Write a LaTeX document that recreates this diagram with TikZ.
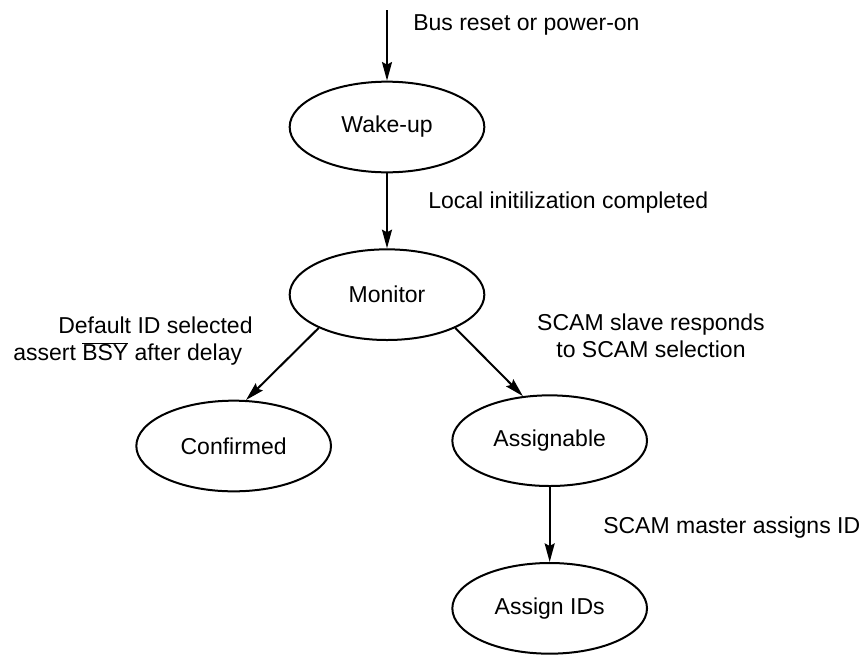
\documentclass[tikz,border=0pt]{standalone}
\usepackage{fontspec}
\setmainfont{Liberation Sans}
\usepackage{tikz}
\usetikzlibrary{shapes.geometric,arrows.meta,positioning}
\tikzset{
  state/.style={ellipse,draw=black,line width=1.5pt,inner sep=0pt,
              minimum width=146pt,minimum height=68pt,align=center},
  lbl/.style={inner sep=0pt,align=left},
  flow/.style={-{Stealth[length=14pt,width=7.5pt,inset=2pt]},line width=1.5pt,draw=black},
}

\begin{document}
\begin{tikzpicture}[x=0.75pt,y=-0.75pt,font=\fontsize{17.25pt}{20.25pt}\selectfont]
  \useasboundingbox (0,0) rectangle (862,654);
  \coordinate (start) at (387,10);
  \node[state] (wake) at (387,127) {Wake-up};
  \node[state,below=56.25pt of wake] (mon) {Monitor};
  \node[state,below=44pt of mon,xshift=-115pt] (conf) {Confirmed};
  \node[state,below=40pt of mon,xshift=122pt] (asgn) {Assignable};
  \node[state,below=56.25pt of asgn] (ids) {Assign IDs};

  \node[lbl,anchor=west] (lreset) at (413,25) {Bus reset or power-on};
  \node[lbl,anchor=west] (linit) at (428,203) {Local initilization completed};
  \node[lbl,anchor=west] (ldef) at (13,341.5)
    {\hspace{33.75pt}Default ID selected\\assert $\overline{\mbox{BSY}}$ after delay};
  \node[lbl,align=center] (lslave) at (651,335.5) {SCAM slave responds\\to SCAM selection};
  \node[lbl,anchor=west] (lmaster) at (603,528) {SCAM master assigns ID};

  \draw[flow] (start) -- (wake);
  \draw[flow] (wake) -- (mon);
  \draw[flow] (mon.-154) -- (conf.75);
  \draw[flow] (mon.-26) -- (asgn.121);
  \draw[flow] (asgn) -- (ids);
\end{tikzpicture}
\end{document}
